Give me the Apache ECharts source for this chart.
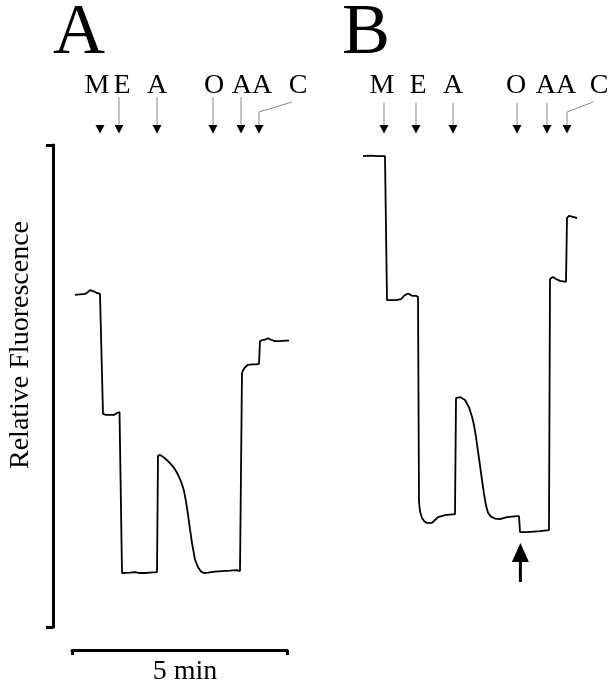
<!DOCTYPE html>
<html><head><meta charset="utf-8">
<script src="https://cdn.jsdelivr.net/npm/echarts@6/dist/echarts.min.js"></script>
<style>html,body{margin:0;padding:0;background:#fff}#c{width:610px;height:686px}</style>
</head><body><div id="c"></div>
<script>
// Time in minutes, relative fluorescence in arbitrary units (0-100)
const traceA = [
  [0.070,68.9],[0.186,69.0],[0.302,69.1],[0.372,69.5],[0.419,69.9],[0.488,69.7],[0.581,69.3],[0.651,69.1],[0.674,68.9],
  [0.721,44.2],[0.791,44.0],[0.884,44.0],[0.977,44.0],[1.047,44.4],[1.070,44.4],[1.105,44.6],[1.116,44.4],
  [1.163,11.2],[1.186,11.2],[1.349,11.3],[1.465,11.4],[1.581,11.2],[1.698,11.2],[1.814,11.3],[1.977,11.4],
  [2.000,35.5],[2.047,35.7],[2.116,35.3],[2.209,34.6],[2.279,34.0],[2.372,33.0],[2.442,32.0],[2.512,30.7],[2.558,29.6],
  [2.605,28.2],[2.651,26.0],[2.698,23.3],[2.744,20.3],[2.791,17.4],[2.860,14.0],[2.930,12.4],[3.000,11.5],[3.070,11.2],[3.163,11.3],[3.326,11.5],
  [3.488,11.6],[3.674,11.7],[3.837,11.8],[3.907,11.6],[3.930,11.8],
  [3.953,52.7],[3.977,53.2],[4.023,53.9],[4.093,54.4],[4.186,54.5],[4.279,54.5],[4.349,54.6],
  [4.372,59.3],[4.419,59.5],[4.488,59.6],[4.558,59.9],[4.628,59.6],[4.721,59.3],[4.837,59.3],[4.953,59.4],[5.093,59.4]
];
const traceB = [
  [0.070,97.7],[0.233,97.8],[0.419,97.7],[0.581,97.7],
  [0.628,67.8],[0.698,67.8],[0.837,67.8],[0.953,68.0],[1.023,68.7],[1.093,69.1],[1.140,69.1],[1.209,68.7],[1.302,68.7],[1.349,68.5],
  [1.372,26.0],[1.395,24.0],[1.442,22.6],[1.500,21.9],[1.558,21.6],[1.674,21.6],[1.744,22.2],[1.814,22.8],[1.977,23.2],[2.209,23.4],
  [2.233,47.5],[2.326,47.7],[2.442,47.1],[2.535,45.6],[2.605,43.6],[2.651,41.9],[2.698,39.4],[2.744,36.5],[2.791,33.5],[2.837,30.5],
  [2.884,27.6],[2.930,25.2],[2.977,23.7],[3.047,22.9],[3.140,22.5],[3.256,22.4],[3.419,22.8],[3.651,23.0],[3.698,23.0],
  [3.721,19.7],[3.884,19.7],[4.186,19.9],[4.395,20.1],
  [4.419,72.2],[4.488,72.6],[4.558,72.2],[4.651,71.8],[4.791,71.6],
  [4.814,84.9],[4.861,85.3],[4.884,85.5],[4.953,85.1],[5.070,84.8],[5.186,84.8],[5.302,84.9]
];
const panelLabels = ['A', 'B'];
const additionLabels = ['M', 'E', 'A', 'O', 'AA', 'C'];
const additionTimesA = [0.651, 1.093, 1.977, 3.279, 3.930, 4.349];
const additionTimesB = [0.558, 1.302, 2.163, 3.651, 4.349, 4.814];
const markerTimesB = [3.73];
const scaleBarLabel = '5 min';
const yAxisLabel = 'Relative Fluorescence';

const FONT = '"Liberation Serif","Times New Roman",serif';
const chart = echarts.init(document.getElementById('c'), null, {renderer: 'canvas'});

chart.setOption({
  animation: false,
  backgroundColor: '#fff',
  grid: [
    {left: 72, top: 145, width: 215, height: 482},
    {left: 360, top: 145, width: 215, height: 482}
  ],
  xAxis: [
    {gridIndex: 0, type: 'value', min: 0, max: 5, interval: 5, position: 'bottom', offset: 23,
     axisLine: {show: true, onZero: false, lineStyle: {color: '#000', width: 3}},
     axisTick: {show: true, length: 5, lineStyle: {color: '#000', width: 3}},
     axisLabel: {show: false}, splitLine: {show: false}},
    {gridIndex: 1, type: 'value', min: 0, max: 5, show: false, splitLine: {show: false}}
  ],
  yAxis: [
    {gridIndex: 0, type: 'value', min: 0, max: 100, interval: 100, position: 'left', offset: 19,
     axisLine: {show: true, onZero: false, lineStyle: {color: '#000', width: 3}},
     axisTick: {show: true, length: 7, lineStyle: {color: '#000', width: 3}},
     axisLabel: {show: false}, splitLine: {show: false}},
    {gridIndex: 1, type: 'value', min: 0, max: 100, show: false, splitLine: {show: false}}
  ],
  series: [
    {type: 'line', xAxisIndex: 0, yAxisIndex: 0, data: traceA, showSymbol: false, clip: false,
     lineStyle: {color: '#000', width: 1.8}, emphasis: {disabled: true}},
    {type: 'line', xAxisIndex: 1, yAxisIndex: 1, data: traceB, showSymbol: false, clip: false,
     lineStyle: {color: '#000', width: 1.8}, emphasis: {disabled: true}}
  ]
});

function txt(text, x, y, size, rot) {
  return {type: 'text', x: x, y: y, rotation: rot || 0, silent: true,
    style: {text: text, fontSize: size, fontFamily: FONT, fill: '#000',
      align: 'center', verticalAlign: 'middle', textAlign: 'center', textVerticalAlign: 'middle'}};
}
const g = [];
// panel letters
g.push(txt(panelLabels[0], 79, 34, 72));
g.push(txt(panelLabels[1], 366, 34, 72));
// axis annotations
g.push(txt(yAxisLabel, 21, 345, 28, Math.PI / 2));
g.push(txt(scaleBarLabel, 185, 672, 28));

// additions
const panels = [
  {grid: 0, times: additionTimesA, labelDx: [-3, 3, 0, 1, 11, 39], shaftTop: 97, noShaft: [0]},
  {grid: 1, times: additionTimesB, labelDx: [-2, 2, 0, -1, 9, 32], shaftTop: 103, noShaft: []}
];
panels.forEach(function (p) {
  p.times.forEach(function (t, i) {
    const x = chart.convertToPixel({gridIndex: p.grid}, [t, 0])[0];
    const lab = additionLabels[i];
    const isLast = i === p.times.length - 1;
    g.push(txt(lab, x + p.labelDx[i], 86, 28));
    if (isLast) {
      g.push({type: 'polyline', silent: true,
        shape: {points: [[x + p.labelDx[i] - 6, 102], [x, 112], [x, 126]]},
        style: {stroke: '#888', lineWidth: 1, fill: null}});
    } else if (p.noShaft.indexOf(i) < 0) {
      g.push({type: 'line', silent: true, shape: {x1: x, y1: p.shaftTop, x2: x, y2: 126},
        style: {stroke: '#888', lineWidth: 1}});
    }
    g.push({type: 'polygon', silent: true,
      shape: {points: [[x - 4.5, 125], [x + 4.5, 125], [x, 133.5]]}, style: {fill: '#000'}});
  });
});
// upward marker arrow in B
markerTimesB.forEach(function (t) {
  const x = chart.convertToPixel({gridIndex: 1}, [t, 0])[0];
  g.push({type: 'polygon', silent: true,
    shape: {points: [[x, 543], [x - 8.5, 562], [x + 8.5, 562]]}, style: {fill: '#000'}});
  g.push({type: 'rect', silent: true, shape: {x: x - 1.5, y: 560, width: 3, height: 22}, style: {fill: '#000'}});
});
chart.setOption({graphic: {elements: g}});
</script></body></html>
